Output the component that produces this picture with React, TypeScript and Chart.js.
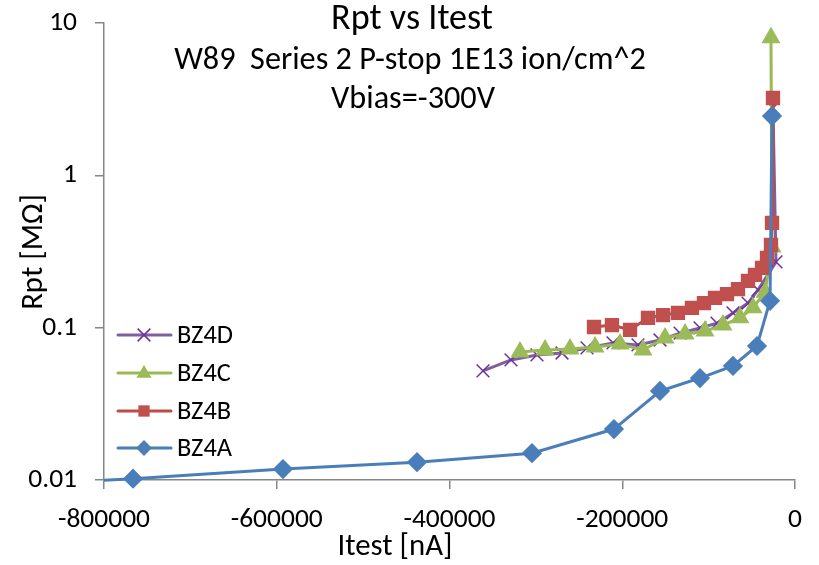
import React, { useEffect, useRef } from "react";
import { Chart, registerables } from "chart.js";

Chart.register(...registerables);

// Itest [nA] / Rpt [MΩ] readings per strip
const itestA = [-880000, -766400, -592800, -437600, -304500, -209600, -156300, -110000, -71800, -44000, -28900, -26600];
const rptA = [0.0094, 0.0102, 0.0118, 0.0131, 0.015, 0.0216, 0.0384, 0.0467, 0.0561, 0.0758, 0.15, 2.45];

const itestB = [-232700, -211900, -191000, -170200, -152800, -135500, -119300, -105400, -92600, -78700, -66000, -54400, -46300, -38200, -32400, -27800, -26600, -25500];
const rptB = [0.101, 0.104, 0.0966, 0.116, 0.121, 0.125, 0.135, 0.145, 0.157, 0.166, 0.179, 0.203, 0.222, 0.247, 0.287, 0.349, 0.487, 3.22];

const itestC = [-318400, -289400, -260500, -231500, -202600, -176000, -150500, -127300, -104200, -83400, -63700, -48600, -34700, -26600, -27800];
const rptC = [0.0692, 0.0714, 0.0725, 0.0747, 0.0782, 0.0714, 0.0856, 0.091, 0.095, 0.104, 0.116, 0.135, 0.171, 0.339, 8.0];

const itestD = [-361200, -328800, -298700, -269750, -240800, -210700, -181800, -156300, -133100, -110000, -90300, -71800, -54400, -42800, -22000, -25500];
const rptD = [0.052, 0.0614, 0.0662, 0.0682, 0.0736, 0.0794, 0.077, 0.083, 0.092, 0.0996, 0.107, 0.125, 0.145, 0.177, 0.27, 2.77];

const xTicks = [-800000, -600000, -400000, -200000, 0];
const yTicks = [0.01, 0.1, 1, 10];

const seriesNames = ["BZ4A", "BZ4B", "BZ4C", "BZ4D"];
const titleText = "Rpt vs Itest";
const subtitleLines = ["W89  Series 2 P-stop 1E13 ion/cm^2", "Vbias=-300V"];
const xTitle = "Itest [nA]";
const yTitle = "Rpt [MΩ]";

const FONT = "Carlito, Calibri, Lato, sans-serif";
const AXIS_GREY = "#868686";

const pts = (xs: number[], ys: number[]) => xs.map((x, i) => ({ x, y: ys[i] }));

// font size that makes `text` span `width` pixels in the chosen family
function sizeFor(text: string, width: number): number {
  const c = document.createElement("canvas").getContext("2d")!;
  c.font = `100px ${FONT}`;
  const w = c.measureText(text).width || 1;
  return (100 * width) / w;
}

function drawMarker(ctx: CanvasRenderingContext2D, style: string, x: number, y: number, r: number, fill: string, stroke: string) {
  ctx.save();
  ctx.fillStyle = fill;
  ctx.strokeStyle = stroke;
  ctx.lineWidth = 1.5;
  ctx.beginPath();
  if (style === "rectRot") {
    ctx.moveTo(x, y - r);
    ctx.lineTo(x + r, y);
    ctx.lineTo(x, y + r);
    ctx.lineTo(x - r, y);
    ctx.closePath();
    ctx.fill();
  } else if (style === "rect") {
    const s = r * Math.SQRT1_2;
    ctx.rect(x - s, y - s, 2 * s, 2 * s);
    ctx.fill();
  } else if (style === "triangle") {
    ctx.moveTo(x, y - r);
    ctx.lineTo(x + r * 0.95, y + r * 0.6);
    ctx.lineTo(x - r * 0.95, y + r * 0.6);
    ctx.closePath();
    ctx.fill();
  } else {
    const s = r * Math.SQRT1_2;
    ctx.moveTo(x - s, y - s);
    ctx.lineTo(x + s, y + s);
    ctx.moveTo(x + s, y - s);
    ctx.lineTo(x - s, y + s);
    ctx.stroke();
  }
  ctx.restore();
}

function makeDecorations() {
  const titleSize = sizeFor(titleText, 162);
  const subSize = sizeFor(subtitleLines[0], 472);
  const axisTitleSize = sizeFor(xTitle, 115);
  const legendSize = sizeFor("BZ4D", 56);
  return {
    id: "decorations",
    afterDraw(chart: any) {
      const ctx: CanvasRenderingContext2D = chart.ctx;
      ctx.save();
      ctx.fillStyle = "#000";
      ctx.textAlign = "center";
      ctx.textBaseline = "middle";
      ctx.font = `${titleSize}px ${FONT}`;
      ctx.fillText(titleText, 412, 20);
      ctx.font = `${subSize}px ${FONT}`;
      ctx.fillText(subtitleLines[0], 410, 61);
      ctx.fillText(subtitleLines[1], 413, 100);

      ctx.font = `${axisTitleSize}px ${FONT}`;
      ctx.fillText(xTitle, 395, 547);
      ctx.save();
      ctx.translate(34, 252);
      ctx.rotate(-Math.PI / 2);
      ctx.fillText(yTitle, 0, 0);
      ctx.restore();

      // legend, listed from the last series to the first
      const rows = [335, 373, 411, 448];
      const order = [3, 2, 1, 0];
      ctx.font = `${legendSize}px ${FONT}`;
      ctx.textAlign = "left";
      order.forEach((di, k) => {
        const ds = chart.data.datasets[di];
        const y = rows[k];
        ctx.save();
        ctx.strokeStyle = ds.borderColor;
        ctx.lineWidth = ds.borderWidth;
        ctx.lineCap = "round";
        ctx.beginPath();
        ctx.moveTo(118, y);
        ctx.lineTo(171, y);
        ctx.stroke();
        ctx.restore();
        drawMarker(ctx, ds.pointStyle, 144, y, ds.pointRadius, ds.pointBackgroundColor, ds.pointBorderColor);
        ctx.fillStyle = "#000";
        ctx.fillText(ds.label, 177, y + 1);
      });
      ctx.restore();
    },
  };
}

export default function App() {
  const ref = useRef<HTMLCanvasElement | null>(null);

  useEffect(() => {
    if (!ref.current) return;
    const tickSize = sizeFor("-800000", 92);
    const clipNoLeft = { left: 0, top: 12, right: 12, bottom: 12 };
    const chart = new Chart(ref.current, {
      type: "line",
      data: {
        datasets: [
          {
            label: seriesNames[0],
            data: pts(itestA, rptA),
            borderColor: "#4A7EBB",
            backgroundColor: "#4A7EBB",
            pointBackgroundColor: "#4A7EBB",
            pointBorderColor: "#4A7EBB",
            pointStyle: "rectRot",
            pointRadius: 8,
            borderWidth: 3,
            clip: clipNoLeft,
          },
          {
            label: seriesNames[1],
            data: pts(itestB, rptB),
            borderColor: "#BE4B48",
            backgroundColor: "#BE4B48",
            pointBackgroundColor: "#C0504D",
            pointBorderColor: "#C0504D",
            pointStyle: "rect",
            pointRadius: 8,
            borderWidth: 3,
            clip: clipNoLeft,
          },
          {
            label: seriesNames[2],
            data: pts(itestC, rptC),
            borderColor: "#98B954",
            backgroundColor: "#98B954",
            pointBackgroundColor: "#9BBB59",
            pointBorderColor: "#9BBB59",
            pointStyle: "triangle",
            pointRadius: 8,
            borderWidth: 3,
            clip: clipNoLeft,
          },
          {
            label: seriesNames[3],
            data: pts(itestD, rptD),
            borderColor: "#7D60A0",
            backgroundColor: "#7D60A0",
            pointBackgroundColor: "#7030A0",
            pointBorderColor: "#7030A0",
            pointStyle: "crossRot",
            pointRadius: 9,
            pointBorderWidth: 1.5,
            borderWidth: 3,
            clip: clipNoLeft,
          },
        ],
      },
      options: {
        responsive: false,
        animation: false,
        parsing: false as any,
        layout: { padding: { top: 23, right: 24, left: 0, bottom: 0 } },
        plugins: {
          legend: { display: false },
          title: { display: false },
          tooltip: { enabled: false },
        },
        elements: { line: { tension: 0 } },
        scales: {
          x: {
            type: "linear",
            min: -800000,
            max: 0,
            afterBuildTicks: (s: any) => {
              s.ticks = xTicks.map((v) => ({ value: v }));
            },
            afterFit: (s: any) => {
              s.height = 85;
              s.paddingLeft = 0;
              s.paddingRight = 0;
            },
            border: { display: true, color: AXIS_GREY, width: 1.5 },
            grid: { display: true, drawOnChartArea: false, drawTicks: true, tickLength: 9, color: AXIS_GREY, lineWidth: 1.5 },
            ticks: {
              color: "#000",
              padding: 15,
              maxRotation: 0,
              font: { family: FONT, size: tickSize },
              callback: (v: any) => String(v),
            },
          },
          y: {
            type: "logarithmic",
            min: 0.01,
            max: 10,
            afterBuildTicks: (s: any) => {
              s.ticks = yTicks.map((v) => ({ value: v }));
            },
            afterFit: (s: any) => {
              s.width = 104;
              s.paddingTop = 0;
              s.paddingBottom = 0;
            },
            border: { display: true, color: AXIS_GREY, width: 1.5 },
            grid: { display: true, drawOnChartArea: false, drawTicks: true, tickLength: 9, color: AXIS_GREY, lineWidth: 1.5 },
            ticks: {
              color: "#000",
              padding: 18,
              font: { family: FONT, size: tickSize },
              callback: (v: any) => String(v),
            },
          },
        },
      },
      plugins: [makeDecorations()],
    });
    return () => chart.destroy();
  }, []);

  return (
    <div style={{ position: "absolute", left: 0, top: 0, width: 819, height: 565, background: "#fff" }}>
      <canvas ref={ref} width={819} height={565} style={{ display: "block" }} />
    </div>
  );
}
